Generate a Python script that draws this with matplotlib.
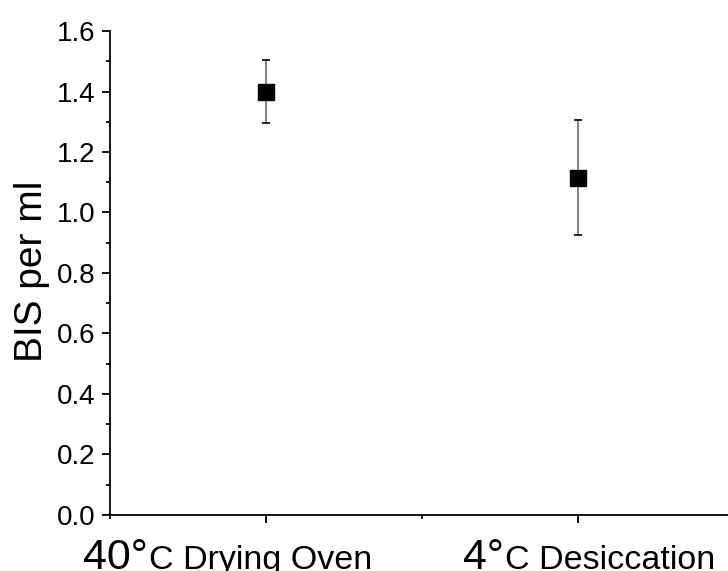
import matplotlib.pyplot as plt
from matplotlib.ticker import MultipleLocator
from matplotlib.transforms import blended_transform_factory

plt.rcParams['font.family'] = ['Liberation Sans', 'DejaVu Sans']

# storage condition, mean BIS concentration and its error
positions = [1, 2]
temps = ['40°', '4°']
methods = ['C Drying Oven', 'C Desiccation']
means = [1.40, 1.115]
errors = [0.105, 0.19]


def main():
    fig = plt.figure(figsize=(7.28, 5.71), dpi=100)
    ax = fig.add_axes([0.1511, 0.0981, 0.8489, 0.8476])

    _, caps, bars = ax.errorbar(positions, means, yerr=errors, fmt='s',
                                color='black', markersize=11, ecolor='black',
                                elinewidth=1.3, capsize=3, capthick=1.2)
    for b in bars:
        b.set_color('#7a7a7a')

    ax.set_xlim(0.5, 2.481)
    ax.set_ylim(0, 1.6)
    ax.yaxis.set_major_locator(MultipleLocator(0.2))
    ax.yaxis.set_minor_locator(MultipleLocator(0.1))
    ax.xaxis.set_major_locator(MultipleLocator(1))
    ax.xaxis.set_minor_locator(MultipleLocator(0.5))
    ax.set_yticklabels([f'{v:.1f}' for v in ax.get_yticks()])
    ax.set_xticklabels([])

    for side in ('top', 'right'):
        ax.spines[side].set_visible(False)
    for side in ('left', 'bottom'):
        ax.spines[side].set_linewidth(1.3)
    ax.tick_params(which='major', direction='out', length=5.5, width=1.3,
                   labelsize=20, pad=5)
    ax.tick_params(which='minor', direction='out', length=3, width=1.3)

    fig.text(42 / 728, 1 - 271 / 571, 'BIS per ml', fontsize=28,
             rotation=90, rotation_mode='anchor', ha='center', va='baseline')

    # category labels: temperature drawn larger than the rest of the name
    trans = blended_transform_factory(ax.transData, fig.transFigure)
    starts = [0.413, 1.631]
    fig.canvas.draw()
    renderer = fig.canvas.get_renderer()
    for x0, t, m in zip(starts, temps, methods):
        big = ax.text(x0, 0.0035, t, fontsize=31, transform=trans,
                      ha='left', va='baseline', clip_on=False)
        bb = big.get_window_extent(renderer)
        ax.text(bb.x1 + 1, 2, m, fontsize=24.5, transform=None,
                ha='left', va='baseline', clip_on=False)

    fig.savefig('out.png', dpi=100)


if __name__ == '__main__':
    main()
